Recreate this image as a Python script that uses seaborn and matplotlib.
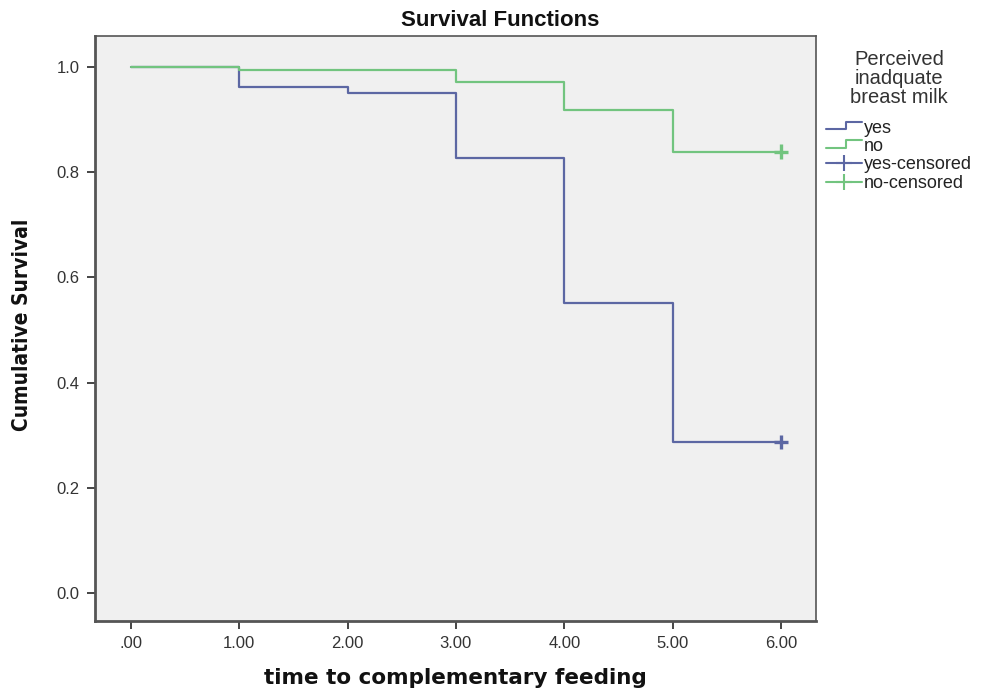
import matplotlib
matplotlib.use("Agg")
import matplotlib.pyplot as plt
import seaborn as sns
import pandas as pd
from matplotlib.lines import Line2D
from matplotlib.legend_handler import HandlerBase

# Data
times = [0, 1, 2, 3, 4, 5, 6]
surv_yes = [1.0, 0.962, 0.951, 0.826, 0.552, 0.287, 0.287]
surv_no = [1.0, 0.994, 0.994, 0.972, 0.918, 0.839, 0.839]
censor_time = [6, 6]
censor_surv = [0.287, 0.839]
groups = ["yes", "no"]
x_ticks = [0, 1, 2, 3, 4, 5, 6]
x_ticklabels = [".00", "1.00", "2.00", "3.00", "4.00", "5.00", "6.00"]
y_ticks = [0.0, 0.2, 0.4, 0.6, 0.8, 1.0]

col_yes = "#5c67a3"
col_no = "#72c47f"
palette = {"yes": col_yes, "no": col_no}

df = pd.DataFrame({
    "time": times * 2,
    "surv": surv_yes + surv_no,
    "group": ["yes"] * len(times) + ["no"] * len(times),
})
cens = pd.DataFrame({"time": censor_time, "surv": censor_surv, "group": groups})

sns.set_theme(style="white")
plt.rcParams["font.family"] = ["Liberation Sans", "DejaVu Sans"]

fig = plt.figure(figsize=(9.82, 6.90), dpi=100)
ax = fig.add_axes([0.0967, 0.100, 0.734, 0.848])
ax.set_facecolor("#f0f0f0")

sns.lineplot(data=df, x="time", y="surv", hue="group", palette=palette,
             drawstyle="steps-post", linewidth=1.6, legend=False, ax=ax,
             estimator=None, sort=False)
sns.scatterplot(data=cens, x="time", y="surv", hue="group", palette=palette,
                marker="+", s=110, linewidth=2.4, legend=False, ax=ax, zorder=5)

ax.set_xlim(-0.33, 6.32)
ax.set_ylim(-0.053, 1.059)
ax.set_xticks(x_ticks)
ax.set_xticklabels(x_ticklabels)
ax.set_yticks(y_ticks)
ax.set_yticklabels([f"{v:.1f}" for v in y_ticks])
ax.tick_params(axis="both", which="both", direction="out", length=6, width=1.4,
               color="#444444", labelsize=12, labelcolor="#333333", pad=5,
               bottom=True, left=True)
for s in ["left", "bottom"]:
    ax.spines[s].set_color("#555555")
    ax.spines[s].set_linewidth(2.0)
for s in ["top", "right"]:
    ax.spines[s].set_color("#555555")
    ax.spines[s].set_linewidth(1.2)

fig.text(0.509, 0.971, "Survival Functions", fontsize=16, fontweight="bold",
         ha="center", va="center", color="#111111")
ax.set_xlabel("time to complementary feeding", fontsize=15.5, fontweight="bold",
              family=["DejaVu Sans"], labelpad=12, color="#111111")
ax.set_ylabel("Cumulative Survival", fontsize=15, fontweight="bold",
              fontstretch="condensed", family=["DejaVu Sans"],
              color="#111111")
ax.yaxis.set_label_coords(-0.088, 0.506)


class StepHandler(HandlerBase):
    def create_artists(self, legend, orig_handle, xdescent, ydescent, width,
                       height, fontsize, trans):
        c = orig_handle.get_color()
        xs = [-xdescent, -xdescent + width * 0.55, -xdescent + width * 0.55, -xdescent + width]
        ys = [height * 0.25, height * 0.25, height * 0.85, height * 0.85]
        ln = Line2D(xs, ys, color=c, linewidth=1.5, transform=trans)
        return [ln]


class CensHandler(HandlerBase):
    def create_artists(self, legend, orig_handle, xdescent, ydescent, width,
                       height, fontsize, trans):
        c = orig_handle.get_color()
        ln = Line2D([-xdescent, -xdescent + width], [height / 2, height / 2],
                    color=c, linewidth=1.5, transform=trans)
        mk = Line2D([-xdescent + width / 2], [height / 2], marker="+",
                    markersize=12, markeredgewidth=1.5, color=c, transform=trans)
        return [ln, mk]


h_yes = Line2D([], [], color=col_yes)
h_no = Line2D([], [], color=col_no)
h_yc = Line2D([], [], color=col_yes)
h_nc = Line2D([], [], color=col_no)
step_h = StepHandler()
cens_h = CensHandler()
leg = fig.legend([h_yes, h_no, h_yc, h_nc],
                 ["yes", "no", "yes-censored", "no-censored"],
                 handler_map={h_yes: step_h, h_no: step_h, h_yc: cens_h, h_nc: cens_h},
                 title="Perceived\ninadquate\nbreast milk",
                 loc="upper left", bbox_to_anchor=(0.834, 0.938),
                 frameon=False, fontsize=13, title_fontsize=14.5,
                 handlelength=2.0, handletextpad=0.1, labelspacing=0.08,
                 borderaxespad=0)
leg._legend_box.sep = 9
leg.get_title().set_multialignment("center")
leg.get_title().set_color("#333333")
leg.get_title().set_linespacing(1.0)
for t in leg.get_texts():
    t.set_color("#222222")

fig.savefig("out.png", dpi=100, facecolor="white")
